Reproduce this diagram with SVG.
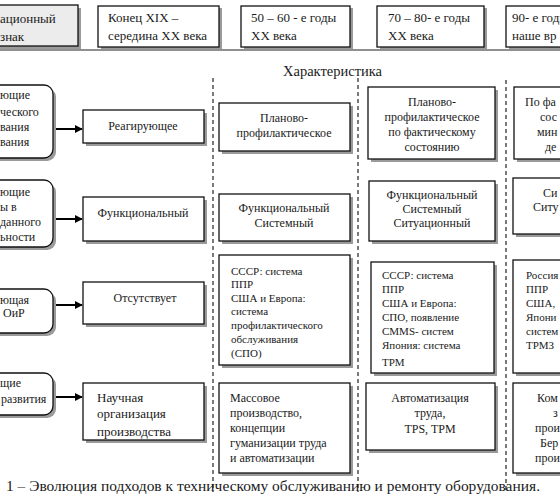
<svg xmlns="http://www.w3.org/2000/svg" width="560" height="500" viewBox="0 0 560 500">
<defs>
<style>
.t{font-family:"Liberation Serif","Times New Roman",serif;font-size:12px;fill:#1a1a1a}
.h{font-size:13px}
.s{font-size:11px}
.c{text-anchor:middle}
.box{fill:#fff;stroke:#111;stroke-width:1.3}
.sh{fill:#9a9a9a}
.dash{stroke:#222;stroke-width:1.2;stroke-dasharray:4 3;fill:none}
.arr{stroke:#000;stroke-width:2;fill:none;marker-end:url(#ah)}
</style>
<marker id="ah" viewBox="0 0 10 10" refX="9" refY="5" markerWidth="4" markerHeight="4" orient="auto" markerUnits="strokeWidth">
<path d="M0,0 L10,5 L0,10 z" fill="#000"/>
</marker>
</defs>
<rect width="560" height="500" fill="#fff"/>

<!-- header -->
<g id="h1"><rect class="sh" x="-8" y="8" width="89" height="41"/><rect x="-10" y="5" width="88" height="41" fill="#ececec" stroke="#111" stroke-width="1.3"/>
<text class="t h" x="0" y="23">ационный</text><text class="t h" x="0" y="41">знак</text></g>
<g id="h2"><rect class="sh" x="101" y="8" width="121" height="41"/><rect class="box" x="98" y="6" width="121" height="41"/>
<text class="t h" x="108" y="22">Конец XIX –</text><text class="t h" x="108" y="40">середина XX века</text></g>
<g id="h3"><rect class="sh" x="244" y="8" width="109" height="41"/><rect class="box" x="241" y="6" width="109" height="41"/>
<text class="t h" x="251" y="22">50 – 60 - е годы</text><text class="t h" x="251" y="40">XX века</text></g>
<g id="h4"><rect class="sh" x="380" y="8" width="107" height="41"/><rect class="box" x="377" y="6" width="107" height="41"/>
<text class="t h" x="388" y="22">70 – 80- е годы</text><text class="t h" x="388" y="40">XX века</text></g>
<g id="h5"><rect class="sh" x="509" y="8" width="70" height="41"/><rect class="box" x="506" y="6" width="70" height="41"/>
<text class="t h" x="512" y="22">90- е годы</text><text class="t h" x="512" y="40">наше вр</text></g>
<line x1="0" y1="50" x2="560" y2="50" stroke="#222" stroke-width="1.2"/>

<text class="t" x="283" y="76" style="font-size:14.5px">Характеристика</text>

<!-- connectors -->
<g id="connectors">
<line class="dash" x1="213" y1="78" x2="213" y2="492"/>
<line class="dash" x1="358" y1="78" x2="358" y2="492"/>
<line class="dash" x1="506" y1="80" x2="506" y2="492"/>
<line class="arr" x1="53" y1="129" x2="82" y2="129"/>
<line class="arr" x1="53" y1="219" x2="82" y2="219"/>
<line class="arr" x1="53" y1="305" x2="82" y2="305"/>
<line class="arr" x1="53" y1="397" x2="82" y2="397"/>
</g>

<!-- left rounded boxes -->
<g id="l1"><rect class="sh" x="-17" y="88" width="73" height="73" rx="9"/><rect class="box" x="-20" y="85" width="73" height="73" rx="9"/>
<text class="t" x="0" y="99">ющие</text><text class="t" x="0" y="116">ческого</text><text class="t" x="0" y="131">вания</text><text class="t" x="0" y="146">вания</text></g>
<g id="l2"><rect class="sh" x="-17" y="183" width="73" height="67" rx="9"/><rect class="box" x="-20" y="180" width="73" height="67" rx="9"/>
<text class="t" x="0" y="196">ющие</text><text class="t" x="0" y="211">ы  в</text><text class="t" x="0" y="226">данного</text><text class="t" x="0" y="241">ьности</text></g>
<g id="l3"><rect class="sh" x="-17" y="292" width="73" height="44" rx="9"/><rect class="box" x="-20" y="289" width="73" height="44" rx="9"/>
<text class="t" x="0" y="304">ющая</text><text class="t" x="3" y="317">ОиР</text></g>
<g id="l4"><rect class="sh" x="-17" y="376" width="73" height="42" rx="9"/><rect class="box" x="-20" y="373" width="73" height="42" rx="9"/>
<text class="t" x="0" y="387">щие</text><text class="t" x="1" y="403">развития</text></g>

<!-- column 1 -->
<g id="c1r1"><rect class="sh" x="86" y="113" width="121" height="33"/><rect class="box" x="83" y="110" width="121" height="33"/>
<text class="t c" x="143" y="130">Реагирующее</text></g>
<g id="c1r2"><rect class="sh" x="86" y="200" width="121" height="44"/><rect class="box" x="83" y="197" width="121" height="44"/>
<text class="t c" x="143" y="217">Функциональный</text></g>
<g id="c1r3"><rect class="sh" x="86" y="285" width="121" height="42"/><rect class="box" x="83" y="282" width="121" height="42"/>
<text class="t c" x="145" y="302">Отсутствует</text></g>
<g id="c1r4"><rect class="sh" x="86" y="386" width="121" height="57"/><rect class="box" x="83" y="383" width="121" height="57"/>
<text class="t h" x="97" y="402">Научная</text><text class="t h" x="97" y="418">организация</text><text class="t h" x="97" y="436">производства</text></g>

<!-- column 2 -->
<g id="c2r1"><rect class="sh" x="222" y="106" width="131" height="48"/><rect class="box" x="219" y="103" width="131" height="48"/>
<text class="t c" x="284" y="122">Планово-</text><text class="t c" x="284" y="137">профилактическое</text></g>
<g id="c2r2"><rect class="sh" x="222" y="197" width="131" height="47"/><rect class="box" x="219" y="194" width="131" height="47"/>
<text class="t c" x="284" y="212">Функциональный</text><text class="t c" x="284" y="227">Системный</text></g>
<g id="c2r3"><rect class="sh" x="222" y="258" width="131" height="110"/><rect class="box" x="219" y="255" width="131" height="110"/>
<text class="t s" x="231" y="275">СССР: система</text><text class="t s" x="231" y="288">ППР</text><text class="t s" x="231" y="302">США и Европа:</text><text class="t s" x="231" y="315">система</text><text class="t s" x="231" y="329">профилактического</text><text class="t s" x="231" y="343">обслуживания</text><text class="t s" x="231" y="357">(СПО)</text></g>
<g id="c2r4"><rect class="sh" x="222" y="386" width="131" height="90"/><rect class="box" x="219" y="383" width="131" height="90"/>
<text class="t" x="230" y="402">Массовое</text><text class="t" x="230" y="417">производство,</text><text class="t" x="230" y="432">концепции</text><text class="t" x="230" y="447">гуманизации труда</text><text class="t" x="230" y="462">и автоматизации</text></g>

<!-- column 3 -->
<g id="c3r1"><rect class="sh" x="371" y="90" width="127" height="72"/><rect class="box" x="368" y="87" width="127" height="72"/>
<text class="t c" x="432" y="106">Планово-</text><text class="t c" x="432" y="121">профилактическое</text><text class="t c" x="432" y="136">по фактическому</text><text class="t c" x="432" y="151">состоянию</text></g>
<g id="c3r2"><rect class="sh" x="372" y="184" width="126" height="60"/><rect class="box" x="369" y="181" width="126" height="60"/>
<text class="t c" x="432" y="199">Функциональный</text><text class="t c" x="432" y="213">Системный</text><text class="t c" x="432" y="227">Ситуационный</text></g>
<g id="c3r3"><rect class="sh" x="374" y="265" width="123" height="111"/><rect class="box" x="371" y="262" width="123" height="111"/>
<text class="t s" x="382" y="279">СССР: система</text><text class="t s" x="382" y="293">ППР</text><text class="t s" x="382" y="307">США и Европа:</text><text class="t s" x="382" y="321">СПО, появление</text><text class="t s" x="382" y="335">CMMS- систем</text><text class="t s" x="382" y="349">Япония: система</text><text class="t s" x="382" y="366">ТРМ</text></g>
<g id="c3r4"><rect class="sh" x="369" y="386" width="129" height="67"/><rect class="box" x="366" y="383" width="129" height="67"/>
<text class="t c" x="430" y="402">Автоматизация</text><text class="t c" x="430" y="417">труда,</text><text class="t c" x="430" y="433">TPS, TPM</text></g>

<!-- column 4 -->
<g id="c4r1"><rect class="sh" x="517" y="90" width="60" height="72"/><rect class="box" x="514" y="87" width="60" height="72"/>
<text class="t" x="525" y="106">По фа</text><text class="t" x="540" y="121">сос</text><text class="t" x="537" y="136">мин</text><text class="t" x="545" y="151">де</text></g>
<g id="c4r2"><rect class="sh" x="516" y="181" width="60" height="56"/><rect class="box" x="513" y="178" width="60" height="56"/>
<text class="t" x="543" y="197">Си</text><text class="t" x="533" y="211">Ситу</text></g>
<g id="c4r3"><rect class="sh" x="516" y="263" width="60" height="113"/><rect class="box" x="513" y="260" width="60" height="113"/>
<text class="t s" x="526" y="279">Россия</text><text class="t s" x="526" y="293">ППР</text><text class="t s" x="526" y="307">США,</text><text class="t s" x="526" y="321">Япони</text><text class="t s" x="526" y="335">систем</text><text class="t s" x="526" y="349">ТРМЗ</text></g>
<g id="c4r4"><rect class="sh" x="516" y="386" width="60" height="90"/><rect class="box" x="513" y="383" width="60" height="90"/>
<text class="t" x="537" y="402">Ком</text><text class="t" x="553" y="417">з</text><text class="t" x="535" y="432">прои</text><text class="t" x="540" y="447">Бер</text><text class="t" x="535" y="462">прои</text></g>

<text class="t" x="6" y="491" style="font-size:14.5px" textLength="534" lengthAdjust="spacingAndGlyphs">1 – Эволюция подходов к техническому обслуживанию и ремонту оборудования.</text>
</svg>
